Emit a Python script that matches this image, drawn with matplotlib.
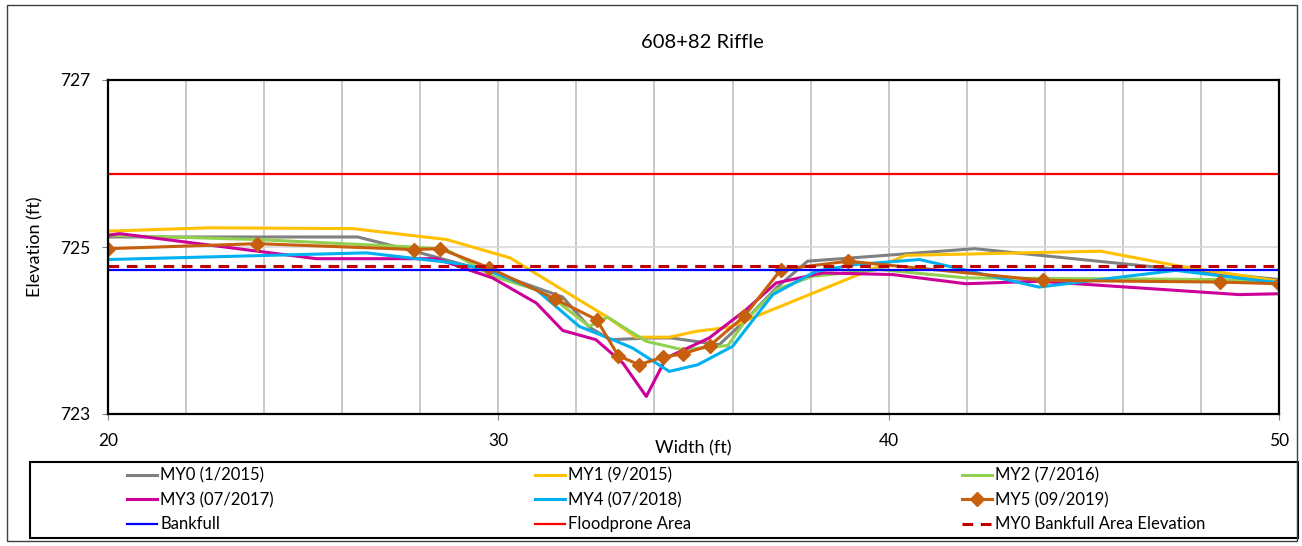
"""
608+82 Riffle cross-section, MY0-MY5
"""
import matplotlib
matplotlib.use("Agg")
import matplotlib.pyplot as plt
from matplotlib.patches import Rectangle
from matplotlib.ticker import MultipleLocator

plt.rcParams['font.family'] = ['Lato', 'DejaVu Sans']

# survey data (station ft, elevation ft)
my0_x = [20, 26.4, 28.0, 30.03, 31.65, 32.33, 32.87, 33.85, 34.44, 35.66, 36.3, 37.12, 37.92, 42.2, 50]
my0_y = [725.12, 725.12, 724.93, 724.67, 724.40, 724.04, 723.89, 723.91, 723.91, 723.83, 724.11, 724.51, 724.83, 724.98, 724.61]

my1_x = [20, 22.6, 26.27, 28.67, 30.3, 32.76, 33.53, 34.38, 35.07, 35.92, 40.44, 45.43, 47.45, 50]
my1_y = [725.19, 725.23, 725.22, 725.09, 724.87, 724.17, 723.92, 723.92, 723.99, 724.04, 724.90, 724.95, 724.77, 724.59]

my2_x = [20, 23.8, 27.81, 28.67, 29.86, 30.97, 31.56, 32.33, 32.8, 33.79, 34.72, 35.88, 36.35, 37.12, 38.05, 39.76, 41.98, 48.47, 50]
my2_y = [725.14, 725.09, 725.0, 724.97, 724.65, 724.49, 724.33, 724.05, 724.16, 723.87, 723.77, 723.82, 724.13, 724.49, 724.65, 724.73, 724.63, 724.61, 724.58]

my3_x = [20, 20.3, 25.34, 28.41, 29.85, 30.97, 31.65, 32.5, 33.19, 33.79, 34.3, 35.4, 36.35, 37.12, 38.31, 40.1, 41.98, 43.85, 48.98, 50]
my3_y = [725.14, 725.16, 724.86, 724.86, 724.63, 724.33, 724.0, 723.89, 723.61, 723.21, 723.67, 723.91, 724.25, 724.57, 724.69, 724.67, 724.56, 724.59, 724.43, 724.44]

my4_x = [20, 26.62, 28.83, 29.69, 30.97, 32.07, 32.93, 33.44, 34.38, 35.11, 36.0, 37.03, 38.14, 39.16, 40.79, 43.85, 47.35, 50]
my4_y = [724.85, 724.93, 724.81, 724.73, 724.49, 724.05, 723.89, 723.79, 723.51, 723.59, 723.81, 724.43, 724.71, 724.79, 724.85, 724.52, 724.72, 724.57]

my5_x = [20, 23.83, 27.84, 28.5, 29.77, 31.44, 32.52, 33.07, 33.6, 34.21, 34.72, 35.42, 36.3, 37.24, 38.96, 43.96, 48.48, 50]
my5_y = [724.98, 725.04, 724.97, 724.98, 724.75, 724.38, 724.13, 723.70, 723.59, 723.68, 723.72, 723.82, 724.17, 724.73, 724.83, 724.60, 724.58, 724.56]

bankfull = 724.73
floodprone = 725.88
my0_bkf_area = 724.77
x_range = [20, 50]
y_ticks = [723, 725, 727]

W, H = 1302, 546
fig = plt.figure(figsize=(W / 100, H / 100), dpi=100)
ax = fig.add_axes([108 / W, 1 - 414 / H, 1171 / W, 334 / H])

lw = 2.2
h = []
h += ax.plot(my0_x, my0_y, color='#808080', lw=lw, label='MY0 (1/2015)')
h += ax.plot(my1_x, my1_y, color='#FFC000', lw=lw, label='MY1 (9/2015)')
h += ax.plot(my2_x, my2_y, color='#92D050', lw=lw, label='MY2 (7/2016)')
h += ax.plot(my3_x, my3_y, color='#CC0099', lw=lw, label='MY3 (07/2017)')
h += ax.plot(my4_x, my4_y, color='#00B0F0', lw=lw, label='MY4 (07/2018)')
h += ax.plot(my5_x, my5_y, color='#C65F0E', lw=lw, marker='D', ms=7, label='MY5 (09/2019)')
h += ax.plot(x_range, [bankfull] * 2, color='#0000FF', lw=1.6, label='Bankfull')
h += ax.plot(x_range, [floodprone] * 2, color='#FF0000', lw=1.6, label='Floodprone Area')
h += ax.plot(x_range, [my0_bkf_area] * 2, color='#C00000', lw=2.2, ls=(0, (3.5, 2.5)),
             label='MY0 Bankfull Area Elevation')

ax.set_xlim(20, 50)
ax.set_ylim(723, 727)
ax.xaxis.set_major_locator(MultipleLocator(10))
ax.xaxis.set_minor_locator(MultipleLocator(2))
ax.set_yticks(y_ticks)
ax.grid(which='major', axis='y', color='#D9D9D9', lw=1.2)
ax.grid(which='both', axis='x', color='#BFBFBF', lw=1.2)
ax.set_axisbelow(True)
ax.tick_params(which='major', direction='out', length=4.5, labelsize=12.5, color='#808080')
ax.tick_params(axis='x', which='major', pad=9)
ax.tick_params(axis='y', which='major', pad=8)
ax.tick_params(which='minor', length=0)
for s in ax.spines.values():
    s.set_linewidth(1.6)
    s.set_color('black')

fig.text(702 / W, 1 - 42 / H, '608+82 Riffle', fontsize=14.5, ha='center', va='center')
ax.set_xlabel('Width (ft)', fontsize=13)
ax.xaxis.set_label_coords(0.5, -0.08)
ax.set_ylabel('Elevation (ft)', fontsize=13)
ax.yaxis.set_label_coords(-0.055, 0.5)

# legend: three columns, filled row by row
col_x = [127, 535, 962]
for c in range(3):
    items = h[c::3]
    fig.legend(items, [i.get_label() for i in items], loc='center left',
               bbox_to_anchor=(col_x[c] / W, 1 - 500 / H), frameon=False, fontsize=12,
               handlelength=1.8, handletextpad=0.2, borderpad=0, borderaxespad=0,
               labelspacing=0.5)
fig.patches.append(Rectangle((30 / W, 1 - 538 / H), 1268 / W, 76 / H, transform=fig.transFigure,
                             fill=False, edgecolor='black', lw=1.5))

fig.patches.append(Rectangle((7 / W, 5 / H), 1290 / W, 536 / H, transform=fig.transFigure,
                             fill=False, edgecolor='#404040', lw=1))

fig.savefig('out.png', dpi=100)
